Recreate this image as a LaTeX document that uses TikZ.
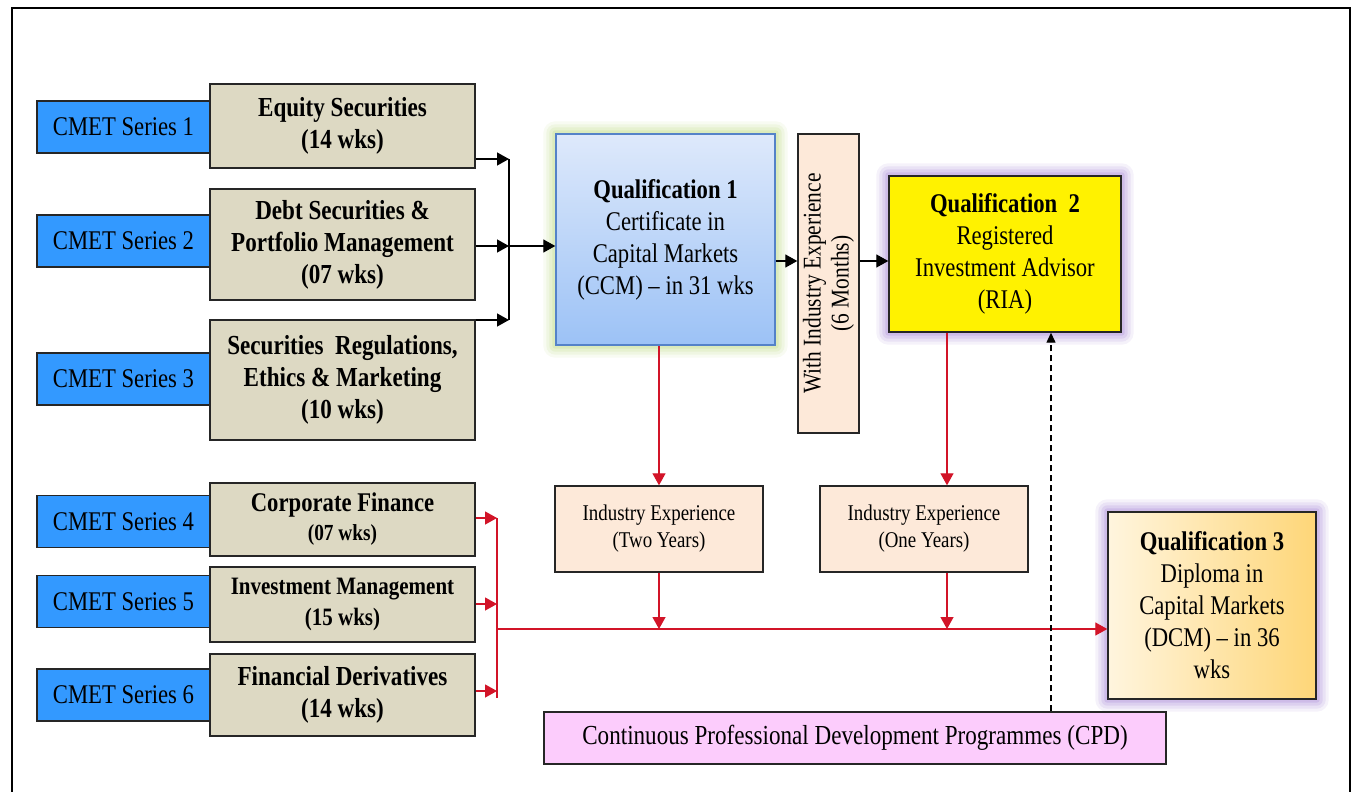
\documentclass[tikz,border=0pt]{standalone}
\usepackage{fontspec}
\setmainfont[FakeStretch=0.84]{Liberation Serif}
\usetikzlibrary{arrows.meta,backgrounds,calc}
\definecolor{cmetblue}{RGB}{51,153,255}
\definecolor{tanbox}{RGB}{221,217,195}
\definecolor{peach}{RGB}{253,233,217}
\definecolor{qoneTop}{RGB}{222,233,251}
\definecolor{qoneBot}{RGB}{156,194,246}
\definecolor{qoneBorder}{RGB}{84,130,200}
\definecolor{glowgreen}{RGB}{190,220,130}
\definecolor{glowpurple}{RGB}{165,130,215}
\definecolor{qthreeL}{RGB}{255,245,222}
\definecolor{qthreeR}{RGB}{254,214,120}
\definecolor{cpdpink}{RGB}{252,204,252}
\definecolor{arrred}{RGB}{210,20,40}
\newcommand\myglow[2]{%
  \foreach \i/\o in {12/0.10,9/0.14,6/0.18,3/0.25}{%
    \fill[#2,opacity=\o,rounded corners=\i pt]
      ([xshift=-\i pt,yshift=\i pt]#1.north west) rectangle
      ([xshift=\i pt,yshift=-\i pt]#1.south east);}}
\begin{document}
\begin{tikzpicture}[x=1pt,y=-1pt,
  box/.style={draw=black!85,line width=1.4pt,inner sep=0pt,align=center},
  cmet/.style={box,fill=cmetblue,minimum width=173pt,minimum height=52pt,font=\fontsize{27}{32}\selectfont},
  course/.style={box,fill=tanbox,minimum width=265pt,font=\bfseries\fontsize{27.5}{32}\selectfont},
  iebox/.style={box,fill=peach,minimum width=208pt,minimum height=86pt,font=\fontsize{22.5}{27}\selectfont},
  qual/.style={box,font=\fontsize{27}{32}\selectfont},
  barr/.style={line width=1.3pt,-{Triangle[length=12pt,width=13pt]}},
  bline/.style={line width=1.3pt},
  rarr/.style={draw=arrred,line width=1.3pt,-{Triangle[length=12pt,width=13pt]},arrred},
  rline/.style={draw=arrred,line width=1.3pt},
  darr/.style={line width=1.3pt,dashed,dash pattern=on 6pt off 4pt,-{Triangle[length=10pt,width=9pt]}}
]
\useasboundingbox (0,0) rectangle (1352,792);
% outer frame
\draw[line width=2pt] (12,800) -- (12,8) -- (1350,8) -- (1350,800);

% CMET series
\node[cmet] (c1) at (123.5,127) {CMET Series 1};
\node[cmet] (c2) at (123.5,241) {CMET Series 2};
\node[cmet] (c3) at (123.5,379) {CMET Series 3};
\node[cmet] (c4) at (123.5,521.5) {CMET Series 4};
\node[cmet] (c5) at (123.5,601.5) {CMET Series 5};
\node[cmet] (c6) at (123.5,695) {CMET Series 6};

% courses
\node[course,minimum height=84pt] (t1) at (342.5,126) {Equity Securities\\(14 wks)};
\node[course,minimum height=111pt] (t2) at (342.5,244.5) {Debt Securities \&\\Portfolio Management\\(07 wks)};
\node[course,minimum height=120pt] (t3) at (342.5,380) {Securities~~Regulations,\\Ethics \& Marketing\\(10 wks)};
\node[course,minimum height=73pt,font=\bfseries\fontsize{27}{29}\selectfont] (t4) at (342.5,519.5) {Corporate Finance\\{\fontsize{23}{24}\selectfont(07 wks)}};
\node[course,minimum height=75pt,font=\bfseries\fontsize{25}{31}\selectfont] (t5) at (342.5,604.5) {Investment Management\\(15 wks)};
\node[course,minimum height=82pt,font=\bfseries\fontsize{27.5}{32}\selectfont] (t6) at (342.5,695) {Financial Derivatives\\(14 wks)};

% qualification boxes
\node[qual,draw=qoneBorder,top color=qoneTop,bottom color=qoneBot,minimum width=219pt,minimum height=211pt] (q1) at (665.5,239.5)
  {\textbf{Qualification 1}\\Certificate in\\Capital Markets\\(CCM) -- in 31 wks};
\node[box,fill=peach,minimum width=61pt,minimum height=299pt] (wie) at (828.5,283.5) {};
\node[rotate=90,align=center,font=\fontsize{25.5}{28}\selectfont,inner sep=0pt] (wiet) at (wie.center) {With Industry Experience\\(6 Months)};
\node[qual,fill=yellow,minimum width=232pt,minimum height=156pt] (q2) at (1005,254)
  {\textbf{Qualification~~2}\\Registered\\Investment Advisor\\(RIA)};
\node[iebox] (ie1) at (659,529) {Industry Experience\\(Two Years)};
\node[iebox] (ie2) at (924,529) {Industry Experience\\(One Years)};
\node[qual,left color=qthreeL,right color=qthreeR,minimum width=208pt,minimum height=187pt] (q3) at (1212,605.5)
  {\textbf{Qualification 3}\\Diploma in\\Capital Markets\\(DCM) -- in 36\\wks};
\node[box,fill=cpdpink,minimum width=622pt,minimum height=52pt,font=\fontsize{27.5}{32}\selectfont] (cpd) at (855,738)
  {Continuous Professional Development Programmes (CPD)};

% glows
\begin{scope}[on background layer]
  \fill[white] (0,0) rectangle (1352,792);
  \myglow{q1}{glowgreen}
  \myglow{q2}{glowpurple}
  \myglow{q3}{glowpurple}
\end{scope}

% black connectors (series 1-3)
\coordinate (jtop) at (509,159);
\coordinate (jmid) at (509,246);
\coordinate (jbot) at (509,320);
\draw[barr] (t1.east |- jtop) -- (jtop);
\draw[barr] (t2.east |- jmid) -- (jmid);
\draw[barr] (t3.east |- jbot) -- (jbot);
\draw[bline] (jtop) -- (jbot);
\draw[barr] (jmid) -- (q1.west |- jmid);
\coordinate (rr) at (0,261);
\draw[barr] (q1.east |- rr) -- (wie.west |- rr);
\draw[barr] (wie.east |- rr) -- (q2.west |- rr);

% red connectors
\coordinate (xa) at (659,0);
\coordinate (xb) at (947,0);
\coordinate (hl) at (497,629);
\draw[rarr] (q1.south -| xa) -- (ie1.north -| xa);
\draw[rarr] (q2.south -| xb) -- (ie2.north -| xb);
\draw[rarr] (ie1.south -| xa) -- (hl -| xa);
\draw[rarr] (ie2.south -| xb) -- (hl -| xb);
\coordinate (ra) at (497,518);
\coordinate (rb) at (497,604);
\coordinate (rc) at (497,691);
\coordinate (rd) at (497,698);
\draw[rarr] (t4.east |- ra) -- (ra);
\draw[rarr] (t5.east |- rb) -- (rb);
\draw[rarr] (t6.east |- rc) -- (rc);
\draw[rline] (ra) -- (rd);
\draw[rarr] (hl) -- (q3.west |- hl);

% dashed CPD -> Q2
\coordinate (xd) at (1051,0);
\draw[darr] (cpd.north -| xd) -- (q2.south -| xd);
\end{tikzpicture}
\end{document}
